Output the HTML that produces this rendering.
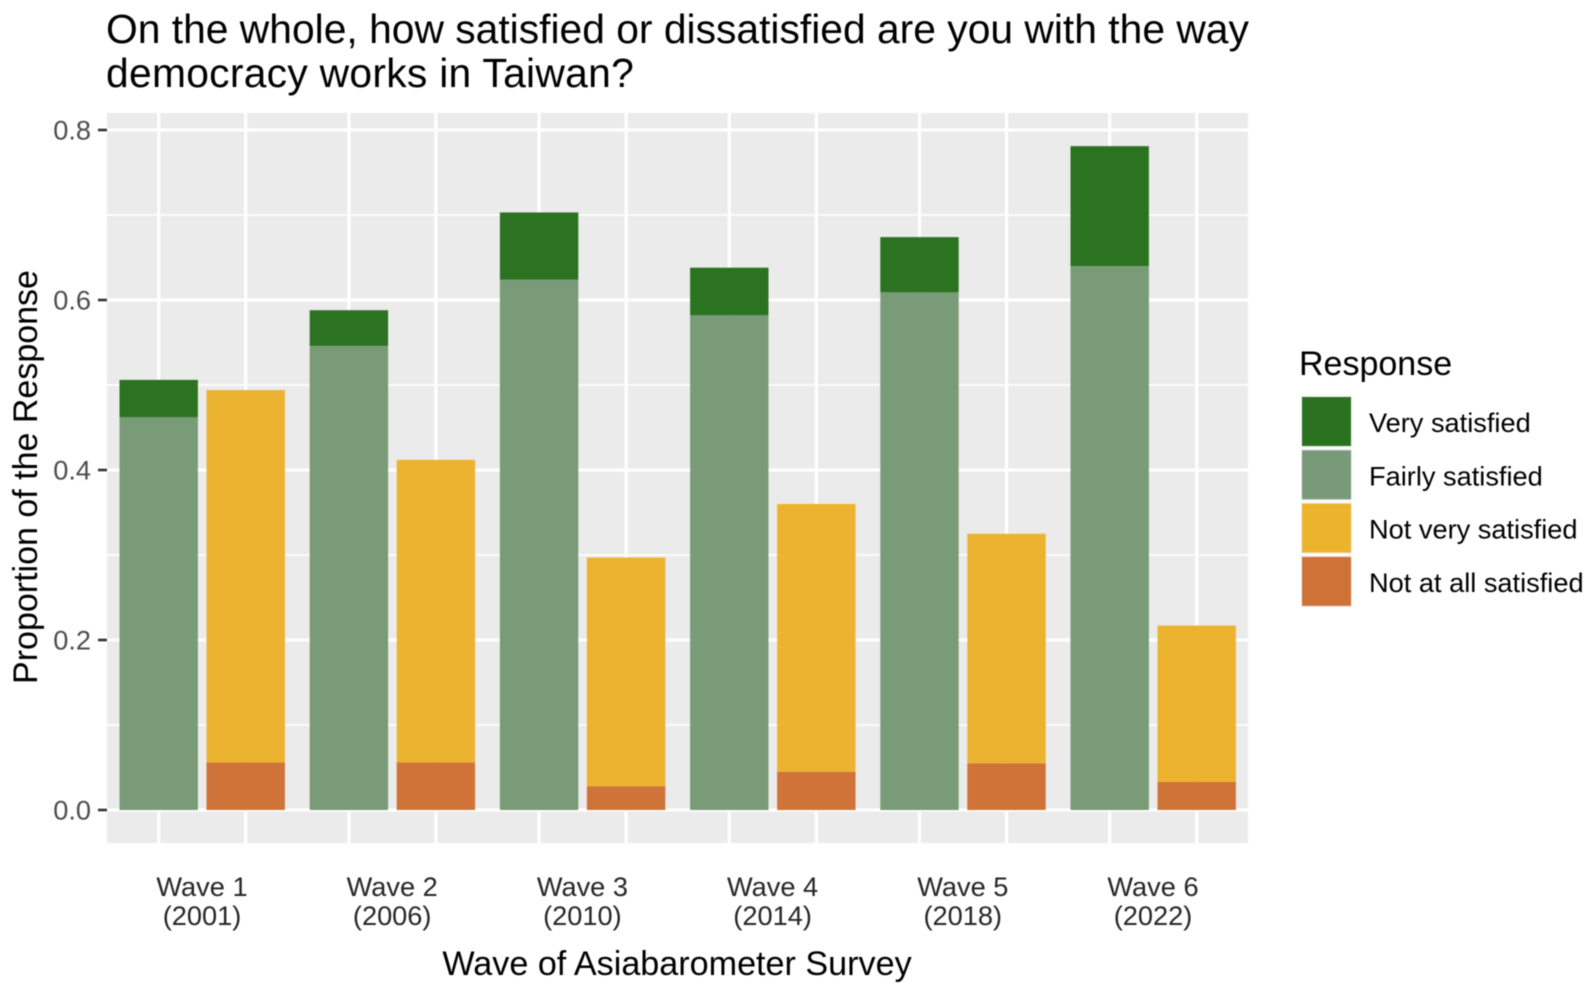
<!DOCTYPE html>
<html>
<head>
<meta charset="utf-8">
<style>
html,body{margin:0;padding:0;background:#fff;width:1595px;height:994px;overflow:hidden}
svg{display:block;font-family:"Liberation Sans",sans-serif;filter:blur(0.4px)}
</style>
</head>
<body>
<svg id="chart" width="1595" height="994" viewBox="0 0 1595 994" xmlns="http://www.w3.org/2000/svg">
  <rect width="1595" height="994" fill="#fff"/>
  <g font-size="40.8" fill="#000">
    <text x="106" y="43">On the whole, how satisfied or dissatisfied are you with the way</text>
    <text x="106" y="87" letter-spacing="0.28">democracy works in Taiwan?</text>
  </g>
  <rect x="107" y="113" width="1141" height="730" fill="#ebebeb"/>
  <g id="grid"></g>
  <g id="bars"></g>
  <g id="yaxis"></g>
  <g id="xaxis"></g>
  <text transform="translate(37,477) rotate(-90)" text-anchor="middle" font-size="34" fill="#000">Proportion of the Response</text>
  <text x="677" y="975" text-anchor="middle" font-size="34.15" fill="#000">Wave of Asiabarometer Survey</text>
  <g id="legend">
    <text x="1299" y="375" font-size="34" fill="#000">Response</text>
  </g>
</svg>
<script>
var waves = ["Wave 1", "Wave 2", "Wave 3", "Wave 4", "Wave 5", "Wave 6"];
var years = ["(2001)", "(2006)", "(2010)", "(2014)", "(2018)", "(2022)"];
var fairlySatisfied = [0.462, 0.546, 0.624, 0.582, 0.609, 0.640];
var verySatisfied = [0.044, 0.042, 0.079, 0.056, 0.065, 0.141];
var notVerySatisfied = [0.438, 0.356, 0.269, 0.315, 0.270, 0.184];
var notAtAllSatisfied = [0.056, 0.056, 0.028, 0.045, 0.055, 0.033];
var yTicks = [0, 0.2, 0.4, 0.6, 0.8];
var yMinorTicks = [0.1, 0.3, 0.5, 0.7];
var legendLabels = ["Very satisfied", "Fairly satisfied", "Not very satisfied", "Not at all satisfied"];

var NS = "http://www.w3.org/2000/svg";
var colVery = "#256e1a", colFairly = "#769874", colNotVery = "#ebb129", colNotAll = "#cd6e32";
var legendColors = ["#2b7220", "#799a78", "#ecb32d", "#ce7238"];

function yScale(v) { return 810 - v * 850; }
function groupCenter(i) { return 158.7 + i * 190.2; }
var dodge = 87, barW = 78.4;

function make(parent, tag, attrs) {
  var el = document.createElementNS(NS, tag);
  for (var k in attrs) el.setAttribute(k, attrs[k]);
  parent.appendChild(el);
  return el;
}

var grid = document.getElementById("grid");
yMinorTicks.forEach(function (t) {
  var l = make(grid, "line", {x1: 107, x2: 1248, y1: yScale(t), y2: yScale(t), stroke: "#fff", "stroke-width": 1.6});
  
  
});
yTicks.forEach(function (t) {
  var l = make(grid, "line", {x1: 107, x2: 1248, y1: yScale(t), y2: yScale(t), stroke: "#fff", "stroke-width": 3.2});
  
  
});
waves.forEach(function (w, i) {
  [0, 1].forEach(function (d) {
    var x = groupCenter(i) + d * dodge;
    var l = make(grid, "line", {x1: x, x2: x, y1: 113, y2: 843, stroke: "#fff", "stroke-width": 3.2});
    
    
  });
});

var bars = document.getElementById("bars");
function bar(cx, lo, hi, color, name) {
  var top = yScale(hi), bottom = yScale(lo);
  var r = make(bars, "rect", {x: cx - barW / 2, y: top, width: barW, height: bottom - top, fill: color, "fill-opacity": 0.97});
  
  
}
waves.forEach(function (w, i) {
  var c1 = groupCenter(i), c2 = c1 + dodge;
  bar(c1, 0, fairlySatisfied[i], colFairly, 'bar-fairly-satisfied');
  bar(c1, fairlySatisfied[i], fairlySatisfied[i] + verySatisfied[i], colVery, 'bar-very-satisfied');
  bar(c2, 0, notAtAllSatisfied[i], colNotAll, 'bar-not-at-all-satisfied');
  bar(c2, notAtAllSatisfied[i], notAtAllSatisfied[i] + notVerySatisfied[i], colNotVery, 'bar-not-very-satisfied');
});

var yaxis = document.getElementById("yaxis");
yTicks.forEach(function (t) {
  var y = yScale(t);
  var m = make(yaxis, "line", {x1: 98, x2: 107, y1: y, y2: y, stroke: "#333", "stroke-width": 2.6});
  
  
  var l = make(yaxis, "text", {x: 91, y: y + 9.5, "text-anchor": "end", "font-size": 27.2, fill: "#4d4d4d"});
  l.textContent = t.toFixed(1);
  
  
});

var xaxis = document.getElementById("xaxis");
waves.forEach(function (w, i) {
  var cx = groupCenter(i) + dodge / 2 - 0.2;
  var a = make(xaxis, "text", {x: cx, y: 896, "text-anchor": "middle", "font-size": 27.2, fill: "#262626"});
  a.textContent = w;
  
  
  var b = make(xaxis, "text", {x: cx, y: 925, "text-anchor": "middle", "font-size": 27.2, fill: "#262626"});
  b.textContent = years[i];
  
  
});

var legend = document.getElementById("legend");
legendLabels.forEach(function (label, i) {
  var top = 397 + i * 53.3;
  var bg = make(legend, "rect", {x: 1301, y: top - 1.5, width: 51, height: 52, fill: "#f2f2f2"});
  
  
  var k = make(legend, "rect", {x: 1302, y: top, width: 49, height: 49, fill: legendColors[i]});
  
  
  var t = make(legend, "text", {x: 1369, y: top + 35, "font-size": 27.2, fill: "#000"});
  t.textContent = label;
  
  
});
</script>
</body>
</html>
